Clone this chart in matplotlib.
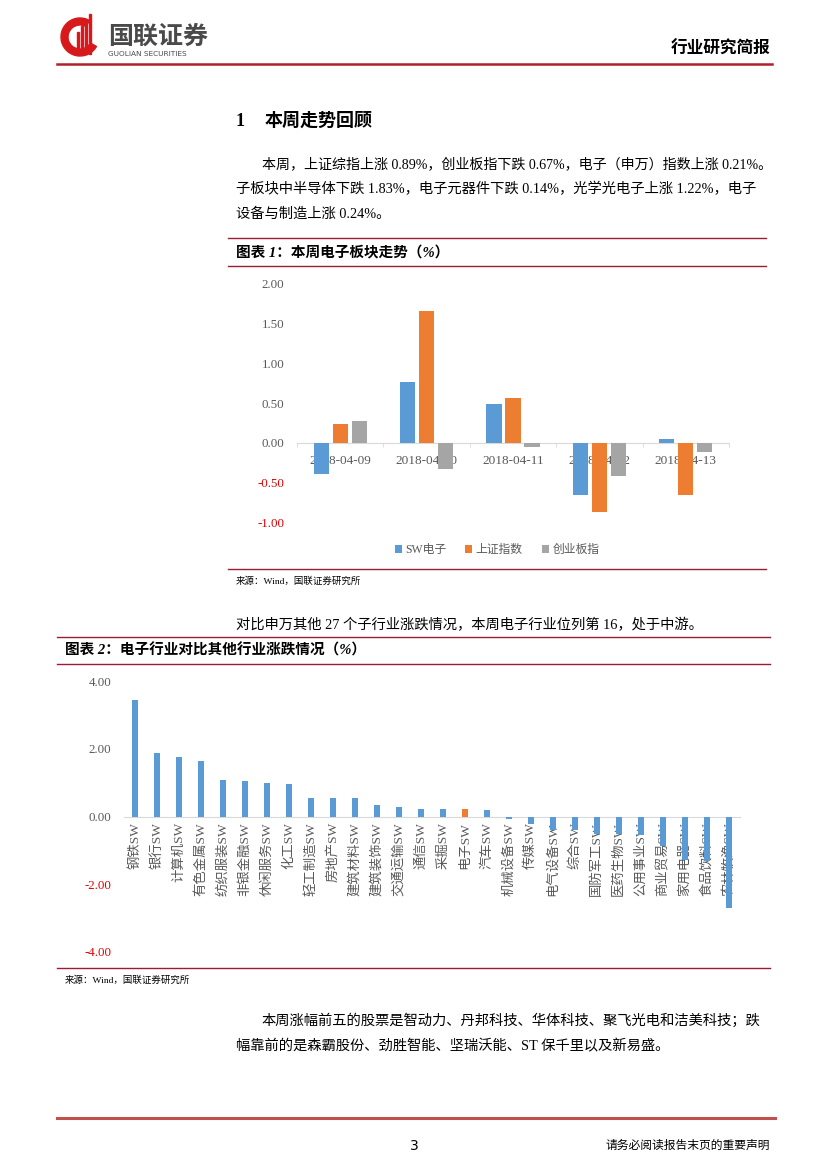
import matplotlib
matplotlib.use("Agg")
import matplotlib.pyplot as plt
import numpy as np
from matplotlib.lines import Line2D
from matplotlib.patches import Rectangle, Wedge

# ---- data ----
dates = ['2018-04-09', '2018-04-10', '2018-04-11', '2018-04-12', '2018-04-13']
sw_elec = [-0.39, 0.76, 0.49, -0.66, 0.04]
sh_index = [0.24, 1.66, 0.56, -0.87, -0.66]
cyb_index = [0.27, -0.33, -0.05, -0.42, -0.12]
series_names = ['SW电子', '上证指数', '创业板指']

industries = ['钢铁SW', '银行SW', '计算机SW', '有色金属SW', '纺织服装SW', '非银金融SW',
              '休闲服务SW', '化工SW', '轻工制造SW', '房地产SW', '建筑材料SW', '建筑装饰SW',
              '交通运输SW', '通信SW', '采掘SW', '电子SW', '汽车SW', '机械设备SW', '传媒SW',
              '电气设备SW', '综合SW', '国防军工SW', '医药生物SW', '公用事业SW', '商业贸易SW',
              '家用电器SW', '食品饮料SW', '农林牧渔SW']
ind_change = [3.45, 1.86, 1.76, 1.64, 1.09, 1.06, 0.99, 0.97, 0.54, 0.54, 0.54, 0.34,
              0.29, 0.22, 0.21, 0.21, 0.18, -0.08, -0.21, -0.39, -0.41, -0.52, -0.52,
              -0.56, -0.86, -1.27, -1.32, -2.70]
highlight = '电子SW'

BLUE, ORANGE, GRAY = '#5b9bd5', '#ed7d31', '#a5a5a5'
TICK = '#595959'
DARKRED = '#9b1b30'
FONT = ['Liberation Serif', 'Noto Sans CJK SC']

W, H = 827, 1169
fig = plt.figure(figsize=(W / 100, H / 100), dpi=100)
plt.rcParams['font.family'] = FONT


def px_axes(x0, y0, x1, y1):
    return fig.add_axes([x0 / W, 1 - y1 / H, (x1 - x0) / W, (y1 - y0) / H])


def hline(y, x0, x1, color=DARKRED, lw=1.0):
    fig.add_artist(Line2D([x0 / W, x1 / W], [1 - y / H, 1 - y / H],
                          transform=fig.transFigure, color=color, lw=lw))


def txt(x, y, s, size=10.5, **kw):
    kw.setdefault('va', 'center')
    kw.setdefault('family', FONT)
    fig.text(x / W, 1 - y / H, s, fontsize=size, **kw)


# ---- header ----
logo = fig.add_axes([55 / W, 1 - 62 / H, 50 / W, 50 / H])
logo.set_xlim(0, 50)
logo.set_ylim(0, 50)
logo.axis('off')
logo.add_patch(Wedge((25, 25), 19, 60, 330, width=7, color='#d7191c'))
for xx, hh in [(22, 22), (26, 28), (30, 34), (34, 40)]:
    logo.add_patch(Rectangle((xx, 8), 2.2, hh, color='#d7191c'))
txt(108, 37, '国联证券', size=18, weight='bold', color='#4a4a4a', family=['Noto Sans CJK SC'])
txt(108, 54, 'GUOLIAN SECURITIES', size=5.3, color='#4a4a4a', family=['DejaVu Sans'])
txt(770, 50, '行业研究简报', size=12, weight='bold', ha='right')
hline(64, 57, 772, color='#b0202c', lw=1.8)

# ---- section text ----
txt(236, 121, '1', size=13, weight='bold')
txt(265, 121, '本周走势回顾', size=13, weight='bold')
txt(262, 164, '本周，上证综指上涨 0.89%，创业板指下跌 0.67%，电子（申万）指数上涨 0.21%。', size=10.1)
txt(236, 189, '子板块中半导体下跌 1.83%，电子元器件下跌 0.14%，光学光电子上涨 1.22%，电子', size=10.3)
txt(236, 214, '设备与制造上涨 0.24%。', size=10.3)

# ---- chart 1 ----
hline(238, 228, 766)
txt(236, 253, '图表 1：本周电子板块走势（%）', size=10.5, weight='bold', style='italic')
hline(266, 228, 766)

ax1 = px_axes(297, 284, 729, 522)
for s in ['top', 'right', 'left']:
    ax1.spines[s].set_visible(False)
ax1.spines['bottom'].set_position(('data', 0))
ax1.spines['bottom'].set_color('#d9d9d9')
x = np.arange(len(dates))
bw, off = 0.175, 0.22
b1 = ax1.bar(x - off, sw_elec, bw, color=BLUE, zorder=3)
b2 = ax1.bar(x, sh_index, bw, color=ORANGE, zorder=3)
b3 = ax1.bar(x + off, cyb_index, bw, color=GRAY, zorder=3)
ax1.set_xlim(-0.5, len(dates) - 0.5)
ax1.set_ylim(-1.0, 2.0)
yt1 = np.arange(-1.0, 2.01, 0.5)
ax1.set_yticks(yt1)
ax1.set_yticklabels([f'{v:.2f}' for v in yt1])
for lab, v in zip(ax1.get_yticklabels(), yt1):
    lab.set_color('#e00000' if v < 0 else TICK)
ax1.set_xticks(x)
ax1.set_xticklabels(dates)
ax1.set_xticks(np.arange(-0.5, len(dates), 1), minor=True)
ax1.tick_params(axis='x', which='major', length=0, pad=9, labelsize=9.5, labelcolor=TICK)
ax1.tick_params(axis='x', which='minor', length=3, color='#d9d9d9', direction='out')
ax1.tick_params(axis='y', length=0, pad=9, labelsize=9.3)
ax1.patch.set_alpha(0)
fig.legend([b1, b2, b3], series_names, loc='center', bbox_to_anchor=(497 / W, 1 - 550 / H),
           ncol=3, frameon=False, fontsize=8.5, handlelength=0.6, handleheight=0.6,
           handletextpad=0.3, columnspacing=1.6, labelcolor=TICK)

hline(569, 228, 766)
txt(236, 581, '来源：Wind，国联证券研究所', size=6.8)

txt(236, 625, '对比申万其他 27 个子行业涨跌情况，本周电子行业位列第 16，处于中游。', size=10.3)

# ---- chart 2 ----
hline(637, 57, 770)
txt(65, 650, '图表 2：电子行业对比其他行业涨跌情况（%）', size=10.5, weight='bold', style='italic')
hline(664, 57, 770)

ax2 = px_axes(124, 681, 740, 952)
for s in ['top', 'right', 'left']:
    ax2.spines[s].set_visible(False)
ax2.spines['bottom'].set_position(('data', 0))
ax2.spines['bottom'].set_color('#d9d9d9')
xi = np.arange(len(industries))
cols = [ORANGE if n == highlight else BLUE for n in industries]
ax2.bar(xi, ind_change, 0.3, color=cols, zorder=3)
ax2.set_xlim(-0.5, len(industries) - 0.5)
ax2.set_ylim(-4, 4)
yt2 = np.arange(-4, 4.01, 2)
ax2.set_yticks(yt2)
ax2.set_yticklabels([f'{v:.2f}' for v in yt2])
for lab, v in zip(ax2.get_yticklabels(), yt2):
    lab.set_color('#e00000' if v < 0 else TICK)
ax2.set_xticks(xi)
ax2.set_xticklabels(industries, rotation=90, va='top', ha='center')
ax2.tick_params(axis='x', length=0, pad=4, labelsize=9.6, labelcolor=TICK)
ax2.tick_params(axis='y', length=0, pad=9, labelsize=9.3)
ax2.patch.set_alpha(0)

hline(968, 57, 770)
txt(65, 980, '来源：Wind，国联证券研究所', size=6.8)

txt(262, 1021, '本周涨幅前五的股票是智动力、丹邦科技、华体科技、聚飞光电和洁美科技；跌', size=10.3)
txt(236, 1046, '幅靠前的是森霸股份、劲胜智能、坚瑞沃能、ST 保千里以及新易盛。', size=10.3)

# ---- footer ----
hline(1118, 57, 775, color='#c0504d', lw=2.2)
txt(414, 1146, '3', size=10, ha='center', family=['DejaVu Sans'])
txt(770, 1146, '请务必阅读报告末页的重要声明', size=8.5, ha='right')

fig.savefig('out.png', dpi=100)
